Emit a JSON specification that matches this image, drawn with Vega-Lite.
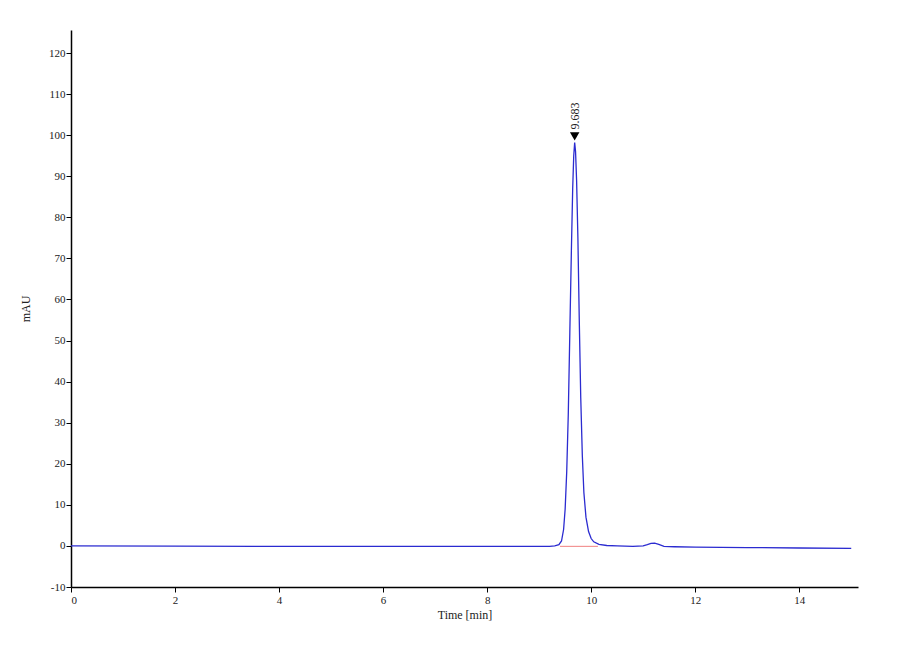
{
  "$schema": "https://vega.github.io/schema/vega-lite/v6.json",
  "autosize": "none",
  "width": 787,
  "height": 557,
  "padding": {"left": 71, "top": 30, "right": 42, "bottom": 73},
  "background": "white",
  "config": {
    "view": {"stroke": null},
    "axis": {
      "labelFont": "Liberation Serif",
      "titleFont": "Liberation Serif",
      "labelFontSize": 11,
      "titleFontSize": 12,
      "labelColor": "#222",
      "titleColor": "#222",
      "domainColor": "black",
      "domainWidth": 1.5,
      "tickColor": "black",
      "tickSize": 5,
      "grid": false,
      "titleFontWeight": "normal"
    }
  },
  "layer": [
    {
      "data": {"values": [
        {"time": 0, "mAU": 0.0},
        {"time": 2, "mAU": -0.05},
        {"time": 4, "mAU": -0.1},
        {"time": 6, "mAU": -0.1},
        {"time": 8, "mAU": -0.1},
        {"time": 9.2, "mAU": -0.1},
        {"time": 9.3, "mAU": 0.0},
        {"time": 9.38, "mAU": 0.3},
        {"time": 9.43, "mAU": 1.2},
        {"time": 9.47, "mAU": 4.0},
        {"time": 9.5, "mAU": 9},
        {"time": 9.53, "mAU": 18},
        {"time": 9.56, "mAU": 32},
        {"time": 9.59, "mAU": 52},
        {"time": 9.62, "mAU": 72},
        {"time": 9.645, "mAU": 87},
        {"time": 9.665, "mAU": 95},
        {"time": 9.683, "mAU": 98.2},
        {"time": 9.70, "mAU": 96},
        {"time": 9.72, "mAU": 89},
        {"time": 9.745, "mAU": 75},
        {"time": 9.77, "mAU": 56},
        {"time": 9.8, "mAU": 36},
        {"time": 9.83, "mAU": 22},
        {"time": 9.86, "mAU": 13},
        {"time": 9.9, "mAU": 7},
        {"time": 9.95, "mAU": 3.5},
        {"time": 10.0, "mAU": 1.8},
        {"time": 10.05, "mAU": 1.0},
        {"time": 10.15, "mAU": 0.4},
        {"time": 10.3, "mAU": 0.1},
        {"time": 10.5, "mAU": 0.0},
        {"time": 10.8, "mAU": -0.1},
        {"time": 11.0, "mAU": 0.0},
        {"time": 11.08, "mAU": 0.3},
        {"time": 11.15, "mAU": 0.6},
        {"time": 11.22, "mAU": 0.7},
        {"time": 11.3, "mAU": 0.4},
        {"time": 11.4, "mAU": -0.1},
        {"time": 11.6, "mAU": -0.2},
        {"time": 12, "mAU": -0.3},
        {"time": 13, "mAU": -0.4},
        {"time": 14, "mAU": -0.5},
        {"time": 15, "mAU": -0.6}
      ]},
      "mark": {"type": "line", "color": "#2b2bd0", "strokeWidth": 1.3},
      "encoding": {
        "x": {
          "field": "time", "type": "quantitative", "title": "Time [min]",
          "scale": {"domain": [0, 15.13], "nice": false},
          "axis": {"values": [0, 2, 4, 6, 8, 10, 12, 14], "titlePadding": 4}
        },
        "y": {
          "field": "mAU", "type": "quantitative", "title": "mAU",
          "scale": {"domain": [-10, 125.6], "nice": false},
          "axis": {
            "values": [-10, 0, 10, 20, 30, 40, 50, 60, 70, 80, 90, 100, 110, 120],
            "labelExpr": "datum.value < 0 ? '-' + abs(datum.value) : datum.label",
            "labelPadding": 1,
            "titlePadding": 16
          }
        }
      }
    },
    {
      "data": {"values": [
        {"time": 9.4, "mAU": -0.1},
        {"time": 10.13, "mAU": -0.1}
      ]},
      "mark": {"type": "line", "color": "#f08080", "strokeWidth": 1},
      "encoding": {
        "x": {"field": "time", "type": "quantitative"},
        "y": {"field": "mAU", "type": "quantitative"}
      }
    },
    {
      "data": {"values": [{"time": 9.683, "mAU": 99.7, "label": "9.683"}]},
      "layer": [
        {
          "mark": {"type": "point", "shape": "triangle-down", "filled": true, "color": "black", "size": 90, "opacity": 1},
          "encoding": {
            "x": {"field": "time", "type": "quantitative"},
            "y": {"field": "mAU", "type": "quantitative"}
          }
        },
        {
          "mark": {"type": "text", "angle": 270, "align": "left", "baseline": "middle", "dx": 7, "font": "Liberation Serif", "fontSize": 12, "color": "#222"},
          "encoding": {
            "x": {"field": "time", "type": "quantitative"},
            "y": {"field": "mAU", "type": "quantitative"},
            "text": {"field": "label"}
          }
        }
      ]
    }
  ]
}
